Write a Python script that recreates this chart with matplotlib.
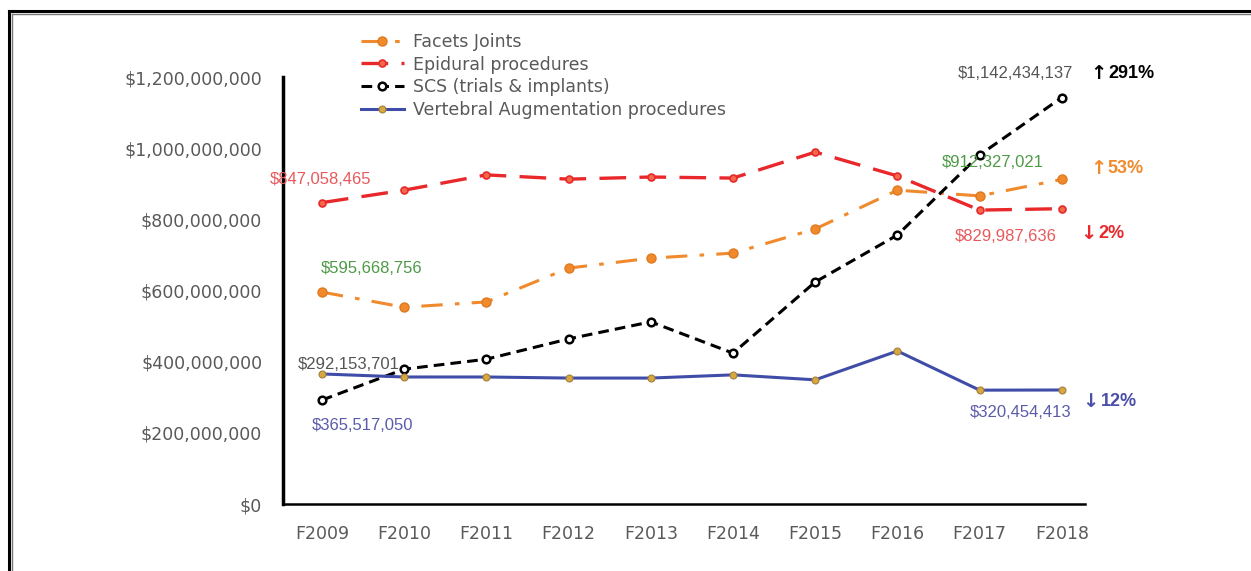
import matplotlib.pyplot as plt
from matplotlib.lines import Line2D
from matplotlib.ticker import FuncFormatter

years = ["F2009", "F2010", "F2011", "F2012", "F2013", "F2014", "F2015", "F2016", "F2017", "F2018"]

facets = [595668756, 553e6, 568e6, 663e6, 691e6, 705e6, 773e6, 882e6, 866e6, 912327021]
epidural = [847058465, 882e6, 925e6, 913e6, 919e6, 916e6, 989e6, 922e6, 826e6, 829987636]
scs = [292153701, 379e6, 407e6, 464e6, 512e6, 424e6, 624e6, 756e6, 981e6, 1142434137]
vertebral = [365517050, 357e6, 357e6, 354e6, 354e6, 363e6, 349e6, 430e6, 320e6, 320454413]

y_ticks = [0, 200e6, 400e6, 600e6, 800e6, 1000e6, 1200e6]

ORANGE = "#F08A2C"
RED = "#E8282B"
BLUE = "#3F4DA8"
GREEN = "#4E9A47"
GREY = "#595959"

plt.rcParams["font.family"] = ["DejaVu Sans"]

fig = plt.figure(figsize=(12.51, 5.71), dpi=100)
ax = fig.add_axes([0.2262, 0.1173, 0.641, 0.7478])

x = list(range(len(years)))
ax.plot(x, facets, color=ORANGE, lw=2.2, dashes=[7, 4, 1.5, 4], marker="o", ms=6.5,
        mfc=ORANGE, mec="#E07A20", label="Facets Joints")
ax.plot(x, epidural, color=RED, lw=2.4, dashes=[8, 4], marker="o", ms=5,
        mfc="#F26A4A", mec=RED, mew=1.2, label="Epidural procedures")
ax.plot(x, scs, color="black", lw=2.2, dashes=[3.5, 2], marker="o", ms=5.5,
        mfc="white", mec="black", mew=1.8, label="SCS (trials & implants)")
ax.plot(x, vertebral, color=BLUE, lw=2.2, marker="o", ms=5,
        mfc="#D8A73E", mec="#A08040", mew=0.8, label="Vertebral Augmentation procedures")

ax.set_xlim(-0.474, 9.28)
ax.set_ylim(0, 1.2e9)
ax.set_xticks(x)
ax.set_xticklabels(years)
ax.set_yticks(y_ticks)
ax.yaxis.set_major_formatter(FuncFormatter(lambda v, p: f"${v:,.0f}"))
ax.tick_params(length=0, labelsize=12.5, labelcolor=GREY)
ax.tick_params(axis="y", pad=15)
ax.tick_params(axis="x", pad=15)
for s in ["top", "right"]:
    ax.spines[s].set_visible(False)
ax.spines["left"].set_linewidth(2.5)
ax.spines["bottom"].set_linewidth(1.8)

lab = dict(family=["Liberation Sans", "DejaVu Sans"], fontsize=12, va="center")
ax.text(-0.633, 0.911e9, f"${epidural[0]:,.0f}", color="#E8595C", **lab)
ax.text(-0.02, 0.663e9, f"${facets[0]:,.0f}", color=GREEN, **lab)
ax.text(-0.29, 0.393e9, f"${scs[0]:,.0f}", color="#555555", **lab)
ax.text(-0.12, 0.222e9, f"${vertebral[0]:,.0f}", color="#5B5BAA", **lab)
ax.text(7.73, 1.209e9, f"${scs[-1]:,.0f}", color="#555555", **lab)
ax.text(7.54, 0.961e9, f"${facets[-1]:,.0f}", color=GREEN, **lab)
ax.text(7.70, 0.753e9, f"${epidural[-1]:,.0f}", color="#E8595C", **lab)
ax.text(7.88, 0.256e9, f"${vertebral[-1]:,.0f}", color="#5B5BAA", **lab)


def pct(series):
    change = series[-1] / series[0] - 1
    arrow = "\u2191" if change > 0 else "\u2193"
    return arrow, f"{abs(change) * 100:.0f}%"


for series, xp, yp, col in [(scs, 9.34, 1.209e9, "black"),
                            (facets, 9.34, 0.942e9, ORANGE),
                            (epidural, 9.22, 0.759e9, RED),
                            (vertebral, 9.25, 0.289e9, "#4A4FA8")]:
    arrow, txt = pct(series)
    ax.text(xp, yp, arrow, color=col, fontsize=14, fontweight="bold",
            family="DejaVu Sans", va="center")
    ax.text(xp + 0.22, yp, txt, color=col, fontsize=13, fontweight="bold",
            family=["Liberation Sans", "DejaVu Sans"], va="center")

leg = ax.legend(loc="upper left", bbox_to_anchor=(352 / 1251, 1 - 24 / 571),
                bbox_transform=fig.transFigure, frameon=False, fontsize=12.5,
                handlelength=2.5, labelspacing=0.28, borderpad=0, handletextpad=0.5)
for t in leg.get_texts():
    t.set_color(GREY)

# double border on the left and top
fig.add_artist(Line2D([8.5 / 1251, 8.5 / 1251], [0, 1 - 10.5 / 571], color="black", lw=2.2))
fig.add_artist(Line2D([8.5 / 1251, 1], [1 - 10.5 / 571, 1 - 10.5 / 571], color="black", lw=2.2))
fig.add_artist(Line2D([12 / 1251, 12 / 1251], [0, 1 - 13.5 / 571], color="#777777", lw=1.0))
fig.add_artist(Line2D([12 / 1251, 1], [1 - 13.5 / 571, 1 - 13.5 / 571], color="#777777", lw=1.0))

fig.savefig("out.png", dpi=100)
